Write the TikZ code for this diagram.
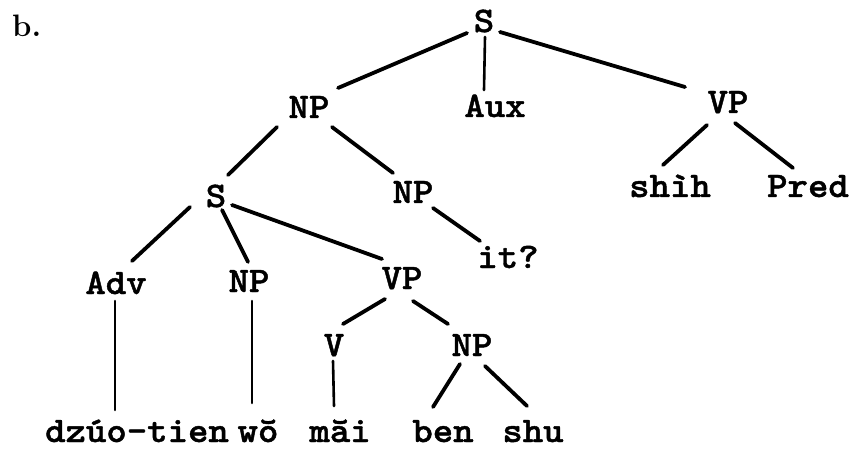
\documentclass[tikz,border=0pt]{standalone}
\usepackage{fontspec}
\newfontfamily\tw{lmmonolt10-bold.otf}[FakeStretch=1.08,FakeBold=1.2]
\usetikzlibrary{calc}
\begin{document}
\begin{tikzpicture}[x=1pt,y=-1pt,
  lbl/.style={anchor=base,inner sep=0pt,font=\fontsize{36}{40}\selectfont\tw},
  br/.style={line width=3.8pt,line cap=round},
  fine/.style={line width=2.6pt,line cap=round}]
\useasboundingbox (0,0) rectangle (854,449);
% labels
\node[anchor=base west,inner sep=0pt,font=\fontsize{31}{36}\selectfont\bfseries] (b) at (12,37) {b.};
\node[lbl] (S) at (484,32) {S};
\node[lbl] (NP1) at (309,118) {NP};
\node[lbl] (Aux) at (495,117) {Aux};
\node[lbl] (VP1) at (728,113) {VP};
\node[lbl] (S2) at (216,207) {S};
\node[lbl] (NP2) at (413,203) {NP};
\node[lbl] (shih) at (670,197) {shìh};
\node[lbl] (Pred) at (808,197) {Pred};
\node[lbl] (itq) at (508,268) {it?};
\node[lbl] (Adv) at (116,294) {Adv};
\node[lbl] (NP3) at (249,292) {NP};
\node[lbl] (VP2) at (402,289) {VP};
\node[lbl] (V) at (334,356) {V};
\node[lbl] (NP4) at (472,356) {NP};
\node[lbl] (dz) at (137,442) {dzúo-tien};
\node[lbl] (wo) at (258,442) {wŏ};
\node[lbl] (mai) at (340,442) {măi};
\node[lbl] (ben) at (443,442) {ben};
\node[lbl] (shu) at (533,442) {shu};
% connectors
\draw[br] ($(S.base)+(-17,1)$) -- ($(NP1.base)+(29,-30)$);
\draw[fine] ($(S.base)+(1,5)$) -- ($(Aux.base)+(-11,-27)$);
\draw[br] ($(S.base)+(16,0)$) -- ($(VP1.base)+(-43,-26)$);
\draw[br] ($(NP1.base)+(-32,9)$) -- ($(S2.base)+(12,-32)$);
\draw[br] ($(NP1.base)+(23,9)$) -- ($(NP2.base)+(-20,-30)$);
\draw[br] ($(VP1.base)+(-21,12)$) -- ($(shih.base)+(-7,-32)$);
\draw[br] ($(VP1.base)+(7,10)$) -- ($(Pred.base)+(-15,-29)$);
\draw[br] ($(S2.base)+(-26,0)$) -- ($(Adv.base)+(16,-33)$);
\draw[br] ($(S2.base)+(6,3)$) -- ($(NP3.base)+(-1,-30)$);
\draw[br] ($(S2.base)+(16,-2)$) -- ($(VP2.base)+(-20,-30)$);
\draw[br] ($(NP2.base)+(20,5)$) -- ($(itq.base)+(-28,-27)$);
\draw[fine] ($(Adv.base)+(-1,7)$) -- ($(dz.base)+(-22,-32)$);
\draw[fine] ($(NP3.base)+(3,9)$) -- ($(wo.base)+(-6,-39)$);
\draw[br] ($(VP2.base)+(-17,10)$) -- ($(V.base)+(9,-32)$);
\draw[br] ($(VP2.base)+(11,12)$) -- ($(NP4.base)+(-24,-32)$);
\draw[fine] ($(V.base)+(-1,5)$) -- ($(mai.base)+(-6,-36)$);
\draw[br] ($(NP4.base)+(-12,8)$) -- ($(ben.base)+(-10,-35)$);
\draw[br] ($(NP4.base)+(13,10)$) -- ($(shu.base)+(-6,-36)$);
\end{tikzpicture}
\end{document}
